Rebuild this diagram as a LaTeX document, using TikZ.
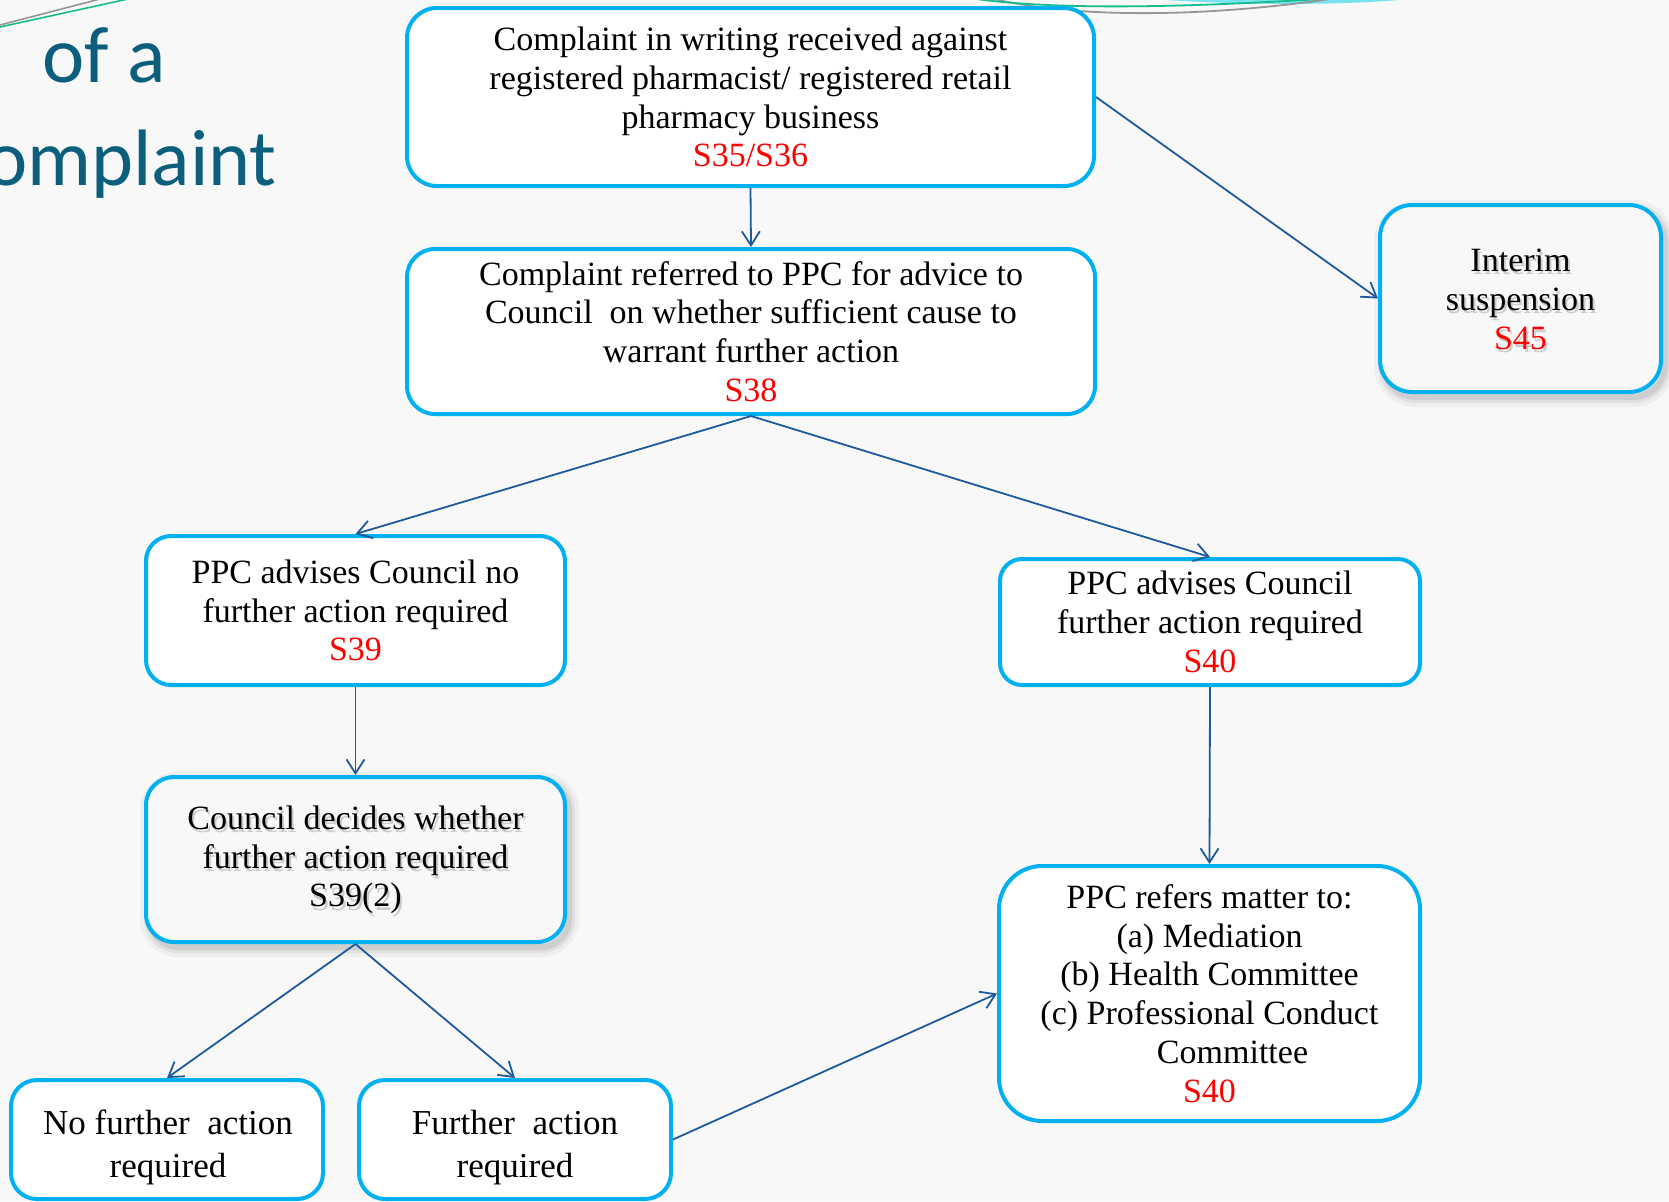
\documentclass[tikz,border=0pt]{standalone}
\usepackage{fontspec}
\setmainfont{Liberation Serif}
\newfontfamily\titlefont{Carlito}
\usetikzlibrary{calc,arrows.meta}
\definecolor{boxcyan}{RGB}{0,176,240}
\definecolor{linkblue}{RGB}{30,90,155}
\definecolor{titleteal}{RGB}{11,94,124}
\definecolor{bgcol}{RGB}{248,248,248}
\definecolor{refred}{RGB}{255,0,0}
\definecolor{decogreen}{RGB}{20,190,140}
\definecolor{decogray}{RGB}{150,150,150}
\definecolor{decocyan}{RGB}{120,226,240}
\colorlet{refcol}{refred}
\newcommand\sref[1]{\textcolor{refcol}{#1}}
\tikzset{
  box/.style={draw=boxcyan, line width=2pt, fill=white, inner sep=0pt, align=center,
    font=\fontsize{17}{19.4}\selectfont},
  glassbox/.style={box, fill=bgcol,
    preaction={draw=black, draw opacity=0.04, line width=10pt, transform canvas={xshift=2pt,yshift=-2.5pt}},
    preaction={draw=black, draw opacity=0.06, line width=6pt, transform canvas={xshift=2pt,yshift=-2.5pt}},
    preaction={draw=black, draw opacity=0.08, line width=3pt, transform canvas={xshift=2pt,yshift=-2.5pt}}},
  txt/.style={inner sep=0pt, align=center, font=\fontsize{17}{19.4}\selectfont},
  shadowtxt/.style={txt, text=black!45, text opacity=0.4},
  conn/.style={draw=linkblue, line width=0.9pt, -{Straight Barb[length=7pt,width=9pt]}},
  titletxt/.style={inner sep=0pt, text=titleteal, font=\titlefont\fontsize{40}{48}\selectfont}
}
\begin{document}
\begin{tikzpicture}[x=0.5pt,y=-0.5pt]
\useasboundingbox (0,0) rectangle (1669,1201);
\fill[bgcol] (0,0) rectangle (1669,1201);
% decorative curves at top
\draw[decogray, line width=0.8pt] (0,25) -- (100,-1);
\draw[decogreen, line width=0.8pt] (0,27) -- (128,-1);
\fill[decocyan] (1150,-1) .. controls (1250,6) and (1350,5) .. (1410,-1) -- cycle;
\draw[decogray, line width=0.9pt] (990,-2) .. controls (1070,18) and (1200,18) .. (1330,-1);
\draw[decogreen, line width=0.9pt] (970,-2) .. controls (1040,9) and (1160,9) .. (1320,-1);
% title fragments
\node[titletxt, anchor=base west] (titleA) at (42,82) {of a};
\node[titletxt, anchor=base east] (titleB) at (277,185) {omplaint};
% boxes
\node[box, minimum width=343.5pt, minimum height=89pt, rounded corners=15pt] (b1) at (750.5,97)
  {Complaint in writing received against\\registered pharmacist/ registered retail\\pharmacy business\\\sref{S35/S36}};
\node[box, minimum width=344pt, minimum height=82.5pt, rounded corners=14pt] (b2) at (751,331.5)
  {Complaint referred to PPC for advice to\\Council~ on whether sufficient cause to\\warrant further action\\\sref{S38}};
\node[glassbox, minimum width=140.5pt, minimum height=93.5pt, rounded corners=16pt] (interim) at (1520.5,298.5) {};
\node[shadowtxt] (interimsh) at (1522.5,302.5) {Interim\\suspension\\S45};
\node[txt] (interimtx) at (1520.5,299.5) {Interim\\suspension\\\sref{S45}};
\node[box, minimum width=209.5pt, minimum height=74.5pt, rounded corners=12.5pt] (s39) at (355.5,610.5)
  {PPC advises Council no\\further action required\\\sref{S39}};
\node[box, minimum width=210pt, minimum height=63pt, rounded corners=11pt] (s40) at (1210,622)
  {PPC advises Council\\further action required\\\sref{S40}};
\node[glassbox, minimum width=209.5pt, minimum height=82.5pt, rounded corners=14pt] (council) at (355.5,859.5) {};
\node[shadowtxt] (councilsh) at (357.5,863.5) {Council decides whether\\further action required\\S39(2)};
\node[txt] (counciltx) at (355.5,860) {Council decides whether\\further action required\\S39(2)};
\node[box, minimum width=210.5pt, minimum height=127.5pt, rounded corners=21.5pt] (ppc) at (1209.5,993.5)
  {PPC refers matter to:\\(a) Mediation\\(b) Health Committee\\(c) Professional Conduct\\\hspace*{23pt}Committee\\\sref{S40}};
\node[box, minimum width=156pt, minimum height=59.5pt, rounded corners=13pt] (nofa) at (167,1139.5) {};
\node[txt, font=\fontsize{17.5}{21.3}\selectfont] (nofatx) at (168,1147.5) {No further~ action\\required};
\node[box, minimum width=156pt, minimum height=59.5pt, rounded corners=13pt] (fa) at (515,1139.5) {};
\node[txt, font=\fontsize{17.5}{21.3}\selectfont] (fatx) at (515,1147.5) {Further~ action\\required};
% connectors
\draw[conn] (b1.south) -- (b2.north);
\draw[conn] (b1.east) -- (interim.west);
\draw[conn] (b2.south) -- (s39.north);
\draw[conn] (b2.south) -- (s40.north);
\draw[conn] (s39.south) -- (council.north);
\draw[conn] (s40.south) -- (ppc.north);
\draw[conn] (council.south) -- (nofa.north);
\draw[conn] (council.south) -- (fa.north);
\draw[conn] (fa.east) -- (ppc.west);
\end{tikzpicture}
\end{document}
